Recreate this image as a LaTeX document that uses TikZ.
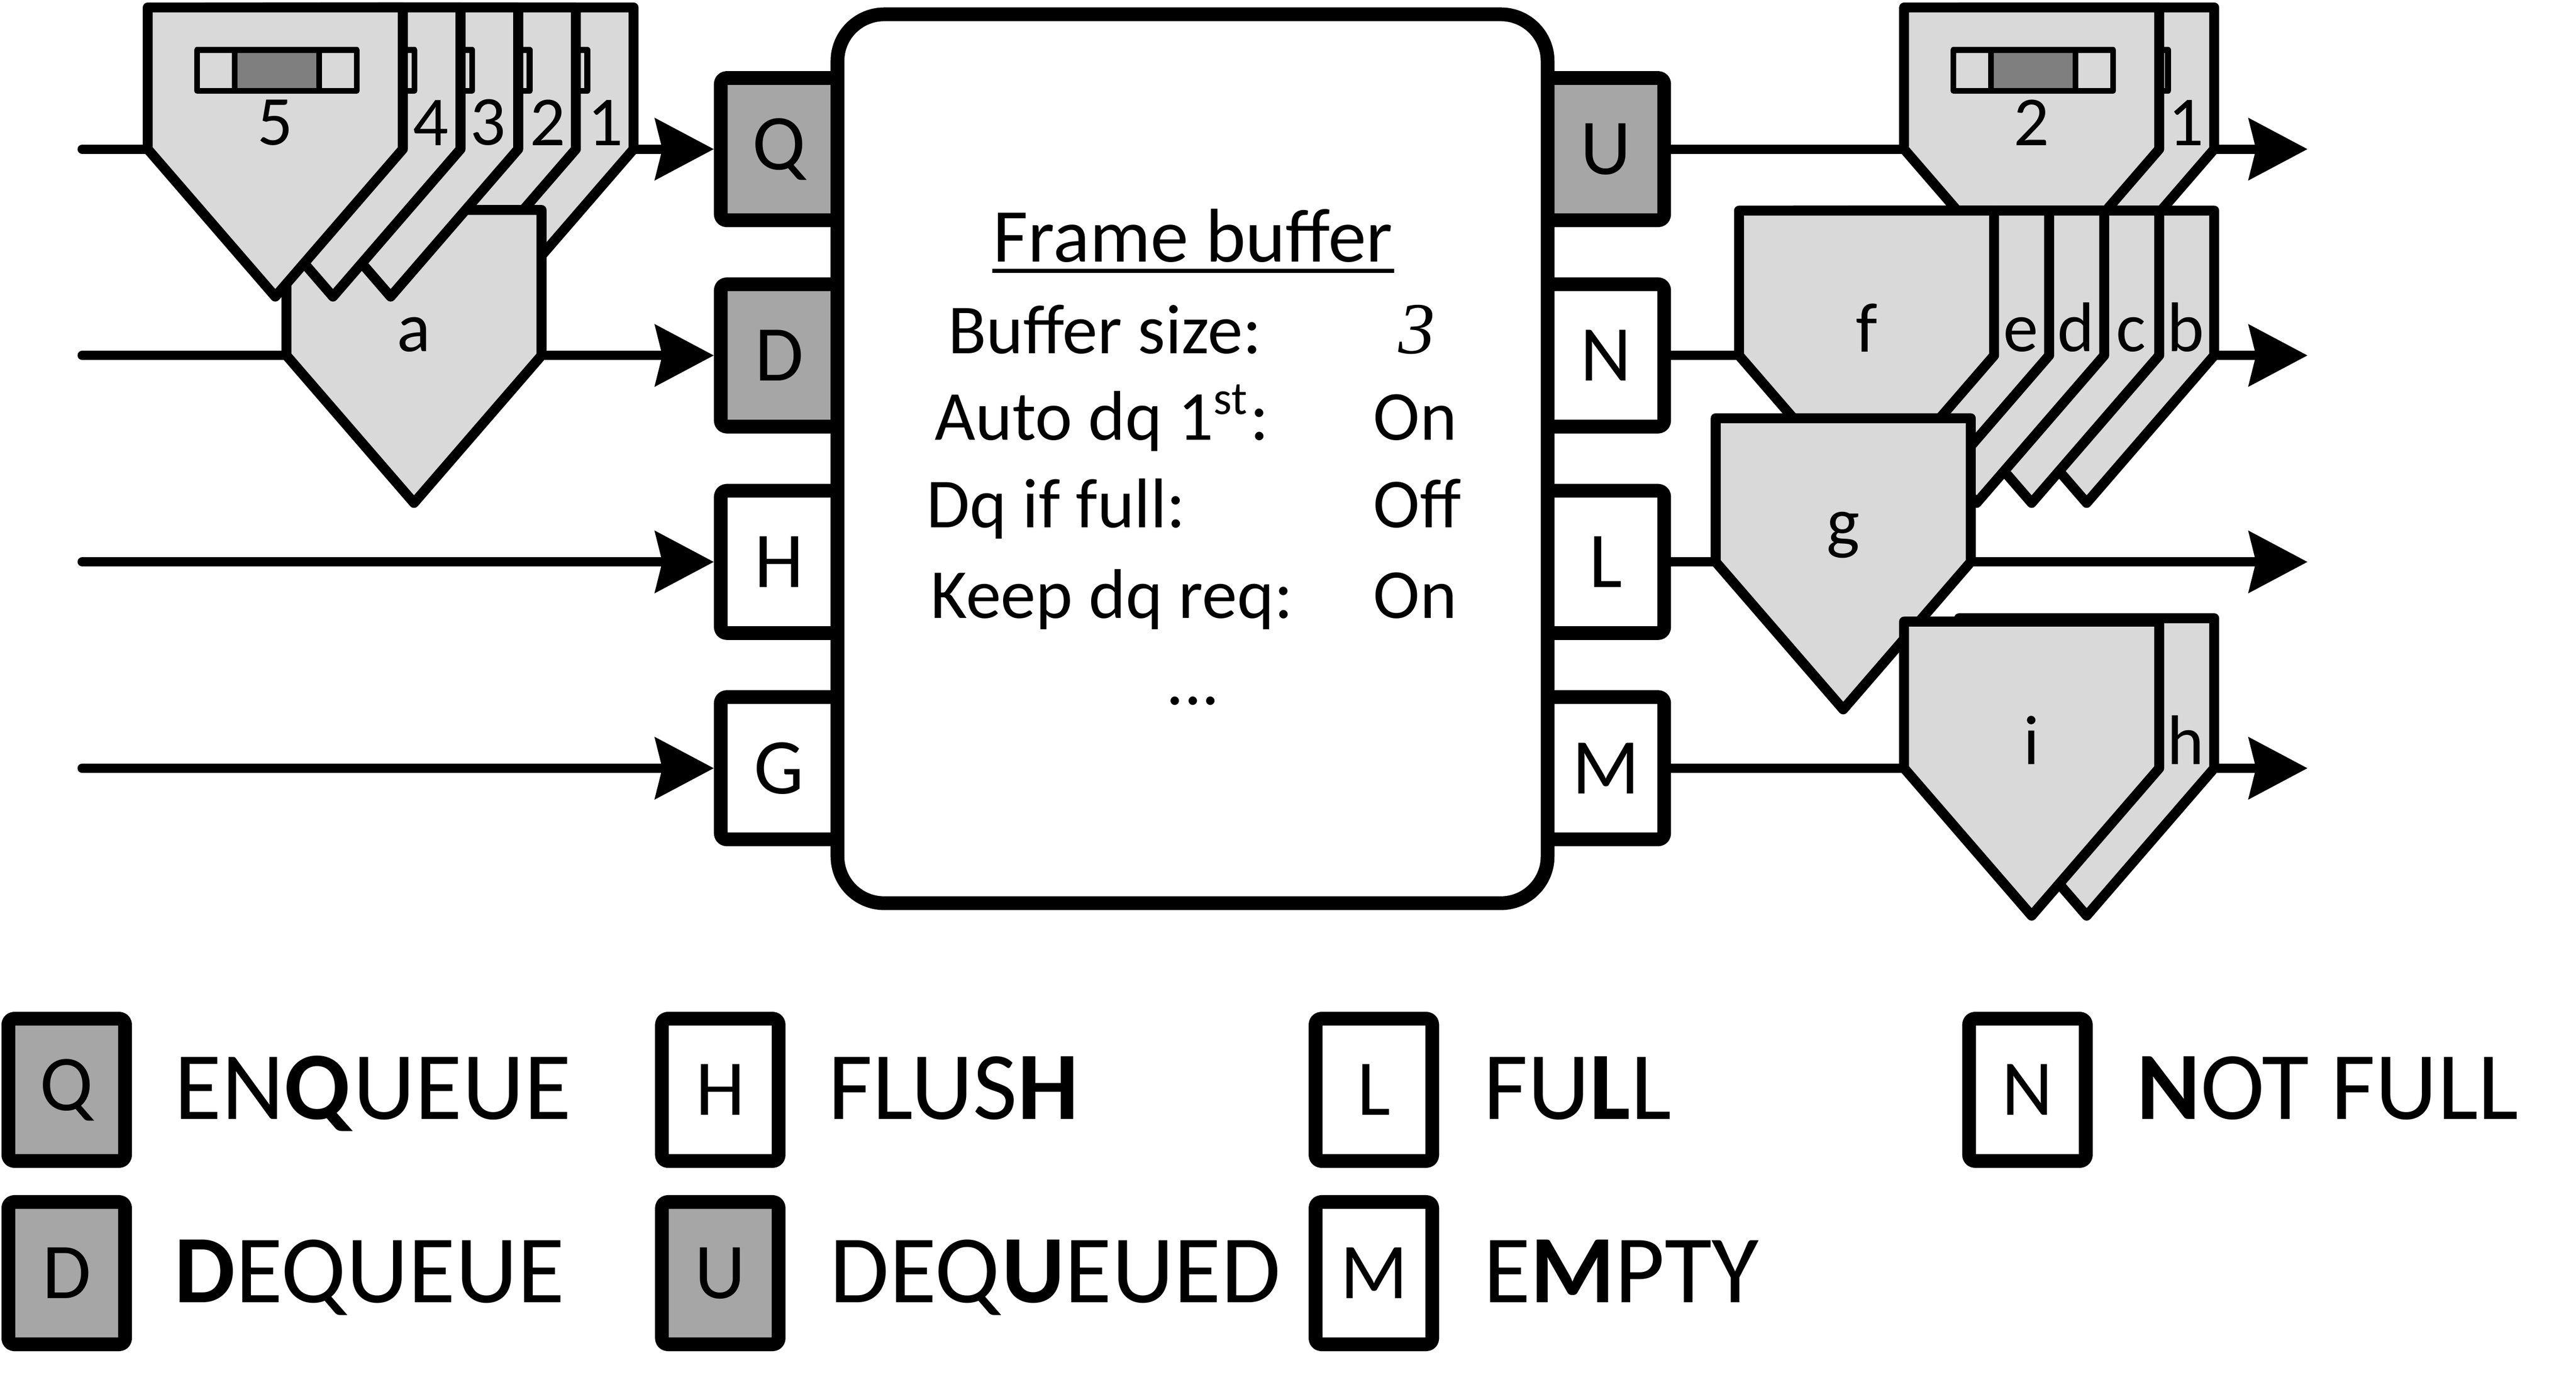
\documentclass[tikz,border=0pt]{standalone}
\usepackage{fontspec}
\setmainfont{Carlito}
\newfontfamily\numfont{Liberation Serif}
\usetikzlibrary{arrows.meta}
\definecolor{framegray}{HTML}{D9D9D9}
\definecolor{portgray}{HTML}{A6A6A6}
\definecolor{cellgray}{HTML}{7F7F7F}
% frame shape: left x, top y, shoulder y
\newcommand{\frm}[3]{%
  \filldraw[frm] (#1,#2) -- (#1+153,#2) -- (#1+153,#3) -- (#1+76.5,#3+88.5) -- (#1,#3) -- cycle;}
% slider on top of a frame: left x of the frame
\newcommand{\widget}[1]{%
  \filldraw[cell] (#1+29.6,30) rectangle (#1+125.3,54.5);
  \filldraw[cell, fill=cellgray] (#1+52.1,30) rectangle (#1+102.8,54.5);}
\begin{document}
\begin{tikzpicture}[x=0.1mm, y=-0.1mm, line join=round,
    >={Stealth[length=10pt, width=10.4pt, inset=1.2pt]},
    sig/.style={line width=1.6pt, line cap=round, ->},
    frm/.style={line width=1.7pt, fill=framegray},
    cell/.style={line width=1pt, fill=framegray},
    port/.style={draw, line width=2.35pt, rounded corners=1pt, fill=white, inner sep=0pt,
        minimum width=7mm, minimum height=8.54mm, font=\fontsize{13.5}{16}\selectfont},
    dark/.style={fill=portgray},
    fbox/.style={draw, line width=2.35pt, rounded corners=2.8mm, fill=white,
        minimum width=42.59mm, minimum height=53.34mm},
    txt/.style={inner sep=0pt, anchor=base west, font=\fontsize{12}{14}\selectfont},
    flab/.style={inner sep=0pt, anchor=south, font=\fontsize{12}{14}\selectfont},
    legtext/.style={inner sep=0pt, anchor=base west, font=\fontsize{16.5}{19}\selectfont}]
    \useasboundingbox (0,0) rectangle (1545,828);

    % ports of the frame buffer
    \node[port, dark] (Q) at (467.3,89.5) {Q};
    \node[port, dark] (D) at (467.3,213.3) {D};
    \node[port] (H) at (467.3,337.2) {H};
    \node[port] (G) at (467.3,461) {G};
    \node[port, dark] (U) at (963.1,89.5) {U};
    \node[port] (N) at (963.1,213.3) {N};
    \node[port] (L) at (963.1,337.2) {L};
    \node[port] (M) at (963.1,461) {M};
    \node[fbox] (fb) at (715.25,275.3) {};

    % signals in and out
    \coordinate (inQ) at (49.3,89.5);
    \coordinate (inD) at (49.3,213.3);
    \coordinate (inH) at (49.3,337.2);
    \coordinate (inG) at (49.3,461);
    \coordinate (outU) at (1384,89.5);
    \coordinate (outN) at (1384,213.3);
    \coordinate (outL) at (1384,337.2);
    \coordinate (outM) at (1384,461);
    \draw[sig] (inQ) -- (Q.west);
    \draw[sig] (inD) -- (D.west);
    \draw[sig] (inH) -- (H.west);
    \draw[sig] (inG) -- (G.west);
    \draw[sig] (U.east) -- (outU);
    \draw[sig] (N.east) -- (outN);
    \draw[sig] (L.east) -- (outL);
    \draw[sig] (M.east) -- (outM);

    % settings
    \node[inner sep=0pt, anchor=base, font=\fontsize{13}{15}\selectfont] (title) at (715.5,157) {Frame buffer};
    \draw[line width=0.7pt] ([yshift=-1.6pt]title.base west) -- ([yshift=-1.6pt]title.base east);
    \node[txt] (k1) at (568,212) {Buffer size:};
    \node[txt] (k2) at (560,264) {Auto dq 1\textsuperscript{st}:};
    \node[txt] (k3) at (555,316.7) {Dq if full:};
    \node[txt] (k4) at (557.5,371) {Keep dq req:};
    \node[txt, font=\fontsize{12.5}{14}\numfont\itshape] (v1) at (838,212) {3};
    \node[txt] (v2) at (823,264) {On};
    \node[txt] (v3) at (823,316.7) {Off};
    \node[txt] (v4) at (823,371) {On};
    \node[txt, anchor=base] (more) at (715.5,423) {...};

    % frames waiting at the input
    \foreach \k in {1,2} {
        \pgfmathsetmacro\fl{88.6+(5-\k)*34.6}
        \frm{\fl}{4.5}{89.5}
        \widget{\fl}
        \node[flab] (n\k) at (\fl+136,88) {\k};
    }
    \frm{171.8}{126}{213.3}
    \node[flab] (la) at (248.3,211.8) {a};
    \foreach \k in {3,4,5} {
        \pgfmathsetmacro\fl{88.6+(5-\k)*34.6}
        \frm{\fl}{4.5}{89.5}
        \widget{\fl}
    }
    \node[flab] (n3) at (292.6,88) {3};
    \node[flab] (n4) at (258.5,88) {4};
    \node[flab] (n5) at (165.1,88) {5};

    % frames at the output
    \frm{1175}{4.5}{89.5}
    \widget{1175}
    \node[flab] (m1) at (1311,88) {1};
    \frm{1142}{4.5}{89.5}
    \widget{1142}
    \node[flab] (m2) at (1218.5,88) {2};
    \foreach \t/\fl in {b/1175, c/1142, d/1109, e/1076} {
        \frm{\fl}{126.4}{213.3}
        \node[flab] (l\t) at (\fl+136,211.8) {\t};
    }
    \frm{1043}{126.4}{213.3}
    \node[flab] (lf) at (1119.5,211.8) {f};
    \frm{1029}{251}{337.2}
    \node[flab] (lg) at (1105.5,335.7) {g};
    \frm{1175}{371}{461}
    \node[flab] (lh) at (1311,459.5) {h};
    \frm{1142}{373}{461}
    \node[flab] (li) at (1218.5,459.5) {i};

    % legend
    \node[port, dark] (kQ) at (40,654) {Q};
    \node[port] (kH) at (432,654) {H};
    \node[port] (kL) at (824,654) {L};
    \node[port] (kN) at (1216,654) {N};
    \node[port, dark] (kD) at (40,764) {D};
    \node[port, dark] (kU) at (432,764) {U};
    \node[port] (kM) at (824,764) {M};
    \node[legtext] (tQ) at (104,671.5) {EN\textbf{Q}UEUE};
    \node[legtext] (tH) at (496,671.5) {FLUS\textbf{H}};
    \node[legtext] (tL) at (889,671.5) {FU\textbf{L}L};
    \node[legtext] (tN) at (1281,671.5) {\textbf{N}OT FULL};
    \node[legtext] (tD) at (104,781.6) {\textbf{D}EQUEUE};
    \node[legtext] (tU) at (497,781.6) {DEQ\textbf{U}EUED};
    \node[legtext] (tM) at (889,781.6) {E\textbf{M}PTY};
\end{tikzpicture}
\end{document}
